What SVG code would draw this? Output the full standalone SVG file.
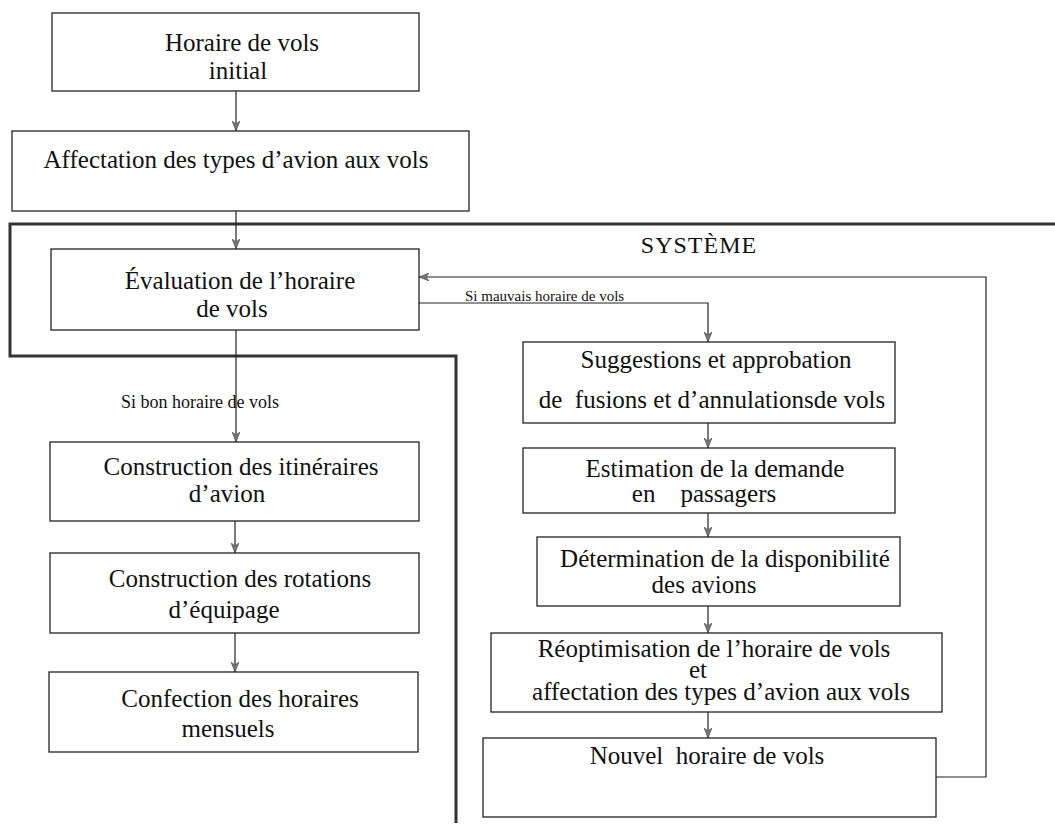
<svg xmlns="http://www.w3.org/2000/svg" width="1055" height="825" viewBox="0 0 1055 825">
<defs>
<style>
.box{fill:#fff;stroke:#222;stroke-width:1.3}
.t{font-family:"Liberation Serif","Times New Roman",serif;font-size:25px;fill:#111;text-anchor:middle}
.lbl{font-family:"Liberation Serif","Times New Roman",serif;fill:#111}
.c{fill:none;stroke:#222;stroke-width:1.2}
.sys{fill:none;stroke:#333;stroke-width:3}
</style>
<marker id="ah" viewBox="0 0 10 8" refX="10" refY="4" markerWidth="10" markerHeight="8" markerUnits="userSpaceOnUse" orient="auto">
<path d="M0,0 L10,4 L0,8 L3,4 z" fill="#777" stroke="#444" stroke-width="0.6"/>
</marker>
</defs>
<rect width="1055" height="825" fill="#fff"/>

<g id="boundary">
<polyline class="sys" points="1055,224 10,224 10,356 456,356 456,823"/>
<text class="lbl" x="699" y="253" font-size="24" letter-spacing="1" text-anchor="middle">SYSTÈME</text>
</g>

<g id="connectors">
<line class="c" x1="236" y1="91" x2="236" y2="131" marker-end="url(#ah)"/>
<line class="c" x1="236" y1="211" x2="236" y2="249" marker-end="url(#ah)"/>
<line class="c" x1="236" y1="330" x2="236" y2="442" marker-end="url(#ah)"/>
<line class="c" x1="235" y1="521" x2="235" y2="553" marker-end="url(#ah)"/>
<line class="c" x1="235" y1="633" x2="235" y2="672" marker-end="url(#ah)"/>
<path class="c" d="M419,303 H708 V342" marker-end="url(#ah)"/>
<line class="c" x1="708" y1="423" x2="708" y2="448" marker-end="url(#ah)"/>
<line class="c" x1="708" y1="513" x2="708" y2="537" marker-end="url(#ah)"/>
<line class="c" x1="708" y1="606" x2="708" y2="633" marker-end="url(#ah)"/>
<line class="c" x1="708" y1="712" x2="708" y2="738" marker-end="url(#ah)"/>
<path class="c" d="M936,777 H986 V277 H419" marker-end="url(#ah)"/>
<text class="lbl" x="121" y="408" font-size="18">Si bon horaire de vols</text>
<text class="lbl" x="465" y="301" font-size="15">Si mauvais horaire de vols</text>
</g>

<g id="n-horaire-initial">
<rect class="box" x="52" y="13" width="367" height="78"/>
<text class="t" x="242" y="51">Horaire de vols</text>
<text class="t" x="238" y="79">initial</text>
</g>

<g id="n-affectation">
<rect class="box" x="12" y="131" width="457" height="80"/>
<text class="t" x="236" y="168">Affectation des types d’avion aux vols</text>
</g>

<g id="n-evaluation">
<rect class="box" x="51" y="249" width="368" height="81"/>
<text class="t" x="240" y="289">Évaluation de l’horaire</text>
<text class="t" x="232" y="317">de vols</text>
</g>

<g id="n-itineraires">
<rect class="box" x="50" y="442" width="369" height="79"/>
<text class="t" x="241" y="475">Construction des itinéraires</text>
<text class="t" x="227" y="502">d’avion</text>
</g>

<g id="n-rotations">
<rect class="box" x="50" y="553" width="369" height="80"/>
<text class="t" x="240" y="587">Construction des rotations</text>
<text class="t" x="224" y="618">d’équipage</text>
</g>

<g id="n-confection">
<rect class="box" x="49" y="672" width="369" height="80"/>
<text class="t" x="240" y="707">Confection des horaires</text>
<text class="t" x="228" y="737">mensuels</text>
</g>

<g id="n-suggestions">
<rect class="box" x="523" y="342" width="372" height="81"/>
<text class="t" x="716" y="368">Suggestions et approbation</text>
<text class="t" x="712" y="408" xml:space="preserve">de  fusions et d’annulationsde vols</text>
</g>

<g id="n-estimation">
<rect class="box" x="523" y="448" width="372" height="65"/>
<text class="t" x="715" y="477">Estimation de la demande</text>
<text class="t" x="704" y="502" xml:space="preserve">en    passagers</text>
</g>

<g id="n-determination">
<rect class="box" x="537" y="537" width="363" height="69"/>
<text class="t" x="725" y="567">Détermination de la disponibilité</text>
<text class="t" x="704" y="593">des avions</text>
</g>

<g id="n-reoptimisation">
<rect class="box" x="491" y="633" width="451" height="79"/>
<text class="t" x="714" y="657">Réoptimisation de l’horaire de vols</text>
<text class="t" x="698" y="678" font-size="22">et</text>
<text class="t" x="721" y="700">affectation des types d’avion aux vols</text>
</g>

<g id="n-nouvel">
<rect class="box" x="483" y="738" width="453" height="79"/>
<text class="t" x="707" y="764" xml:space="preserve">Nouvel  horaire de vols</text>
</g>
</svg>
